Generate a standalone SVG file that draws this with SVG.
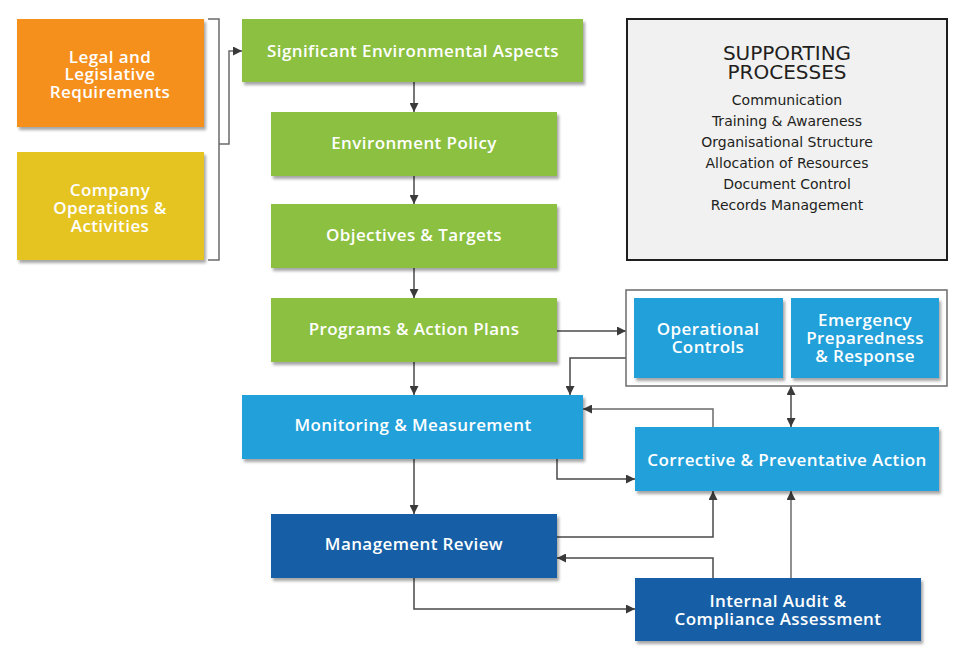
<svg xmlns="http://www.w3.org/2000/svg" width="962" height="651" viewBox="0 0 962 651">
<style>
.box{filter:url(#sh)}
.t{font-family:"Open Sans","DejaVu Sans",sans-serif;font-size:17px;font-weight:600;letter-spacing:0.4px;fill:#ffffff;text-anchor:middle}
.s{font-family:"DejaVu Sans",sans-serif;fill:#231f20;text-anchor:middle}
.c{fill:none;stroke:#4a4a4a;stroke-width:1.5}
.g{fill:none;stroke:#6b6b6b;stroke-width:1.5}
</style>
<defs>
<filter id="sh" x="-10%" y="-20%" width="125%" height="150%">
<feDropShadow dx="2" dy="3" stdDeviation="1.8" flood-color="#000" flood-opacity="0.35"/>
</filter>
<marker id="a" viewBox="0 0 10 10" refX="10" refY="5" markerWidth="9" markerHeight="9" markerUnits="userSpaceOnUse" orient="auto-start-reverse">
<path d="M0,0 L10,5 L0,10 Z" fill="#3a3a3a"/>
</marker>
</defs>
<rect width="962" height="651" fill="#ffffff"/>

<g id="connectors">
<path class="g" d="M208,19 H219 V260 H208"/>
<path class="g" d="M219,144 H229 V51 H242" marker-end="url(#a)"/>
<path class="c" d="M414,82 V112" marker-end="url(#a)"/>
<path class="c" d="M414,176 V204" marker-end="url(#a)"/>
<path class="c" d="M414,268 V298" marker-end="url(#a)"/>
<path class="c" d="M414,362 V395" marker-end="url(#a)"/>
<path class="c" d="M557,331 H626" marker-end="url(#a)"/>
<path class="c" d="M626,358 H570 V395" marker-end="url(#a)"/>
<path class="g" d="M713,427 V409 H583" marker-end="url(#a)"/>
<path class="c" d="M791,386 V427" marker-start="url(#a)" marker-end="url(#a)"/>
<path class="c" d="M557,459 V479 H635" marker-end="url(#a)"/>
<path class="c" d="M414,459 V514" marker-end="url(#a)"/>
<path class="c" d="M557,537 H713 V491" marker-end="url(#a)"/>
<path class="c" d="M713,578 V558 H557" marker-end="url(#a)"/>
<path class="c" d="M414,578 V609 H635" marker-end="url(#a)"/>
<path class="g" d="M791,578 V491" marker-end="url(#a)"/>
</g>

<g id="legal">
<rect class="box" x="17" y="19" width="187" height="108" fill="#f6901e"/>
<text class="t" x="110" y="63">Legal and</text>
<text class="t" x="110" y="80">Legislative</text>
<text class="t" x="110" y="98">Requirements</text>
</g>
<g id="company">
<rect class="box" x="17" y="152" width="187" height="108" fill="#e5c420"/>
<text class="t" x="110" y="196">Company</text>
<text class="t" x="110" y="214">Operations &amp;</text>
<text class="t" x="110" y="232">Activities</text>
</g>
<g id="significant">
<rect class="box" x="242" y="19" width="341" height="63" fill="#8bc03f"/>
<text class="t" x="413" y="57">Significant Environmental Aspects</text>
</g>
<g id="policy">
<rect class="box" x="271" y="112" width="286" height="64" fill="#8bc03f"/>
<text class="t" x="414" y="149">Environment Policy</text>
</g>
<g id="objectives">
<rect class="box" x="271" y="204" width="286" height="64" fill="#8bc03f"/>
<text class="t" x="414" y="241">Objectives &amp; Targets</text>
</g>
<g id="programs">
<rect class="box" x="271" y="298" width="286" height="64" fill="#8bc03f"/>
<text class="t" x="414" y="335">Programs &amp; Action Plans</text>
</g>
<g id="monitoring">
<rect class="box" x="242" y="395" width="341" height="64" fill="#22a0da"/>
<text class="t" x="413" y="431">Monitoring &amp; Measurement</text>
</g>
<g id="management">
<rect class="box" x="271" y="514" width="286" height="64" fill="#155fa7"/>
<text class="t" x="414" y="550">Management Review</text>
</g>
<g id="operations-group">
<rect x="626" y="290" width="321" height="96" fill="none" stroke="#6b6b6b" stroke-width="1.5"/>
</g>
<g id="operational">
<rect class="box" x="634" y="298" width="149" height="80" fill="#22a0da"/>
<text class="t" x="708" y="335">Operational</text>
<text class="t" x="708" y="353">Controls</text>
</g>
<g id="emergency">
<rect class="box" x="791" y="298" width="148" height="80" fill="#22a0da"/>
<text class="t" x="865" y="326">Emergency</text>
<text class="t" x="865" y="344">Preparedness</text>
<text class="t" x="865" y="362">&amp; Response</text>
</g>
<g id="corrective">
<rect class="box" x="635" y="427" width="304" height="64" fill="#22a0da"/>
<text class="t" x="787" y="466">Corrective &amp; Preventative Action</text>
</g>
<g id="audit">
<rect class="box" x="635" y="578" width="286" height="63" fill="#155fa7"/>
<text class="t" x="778" y="607">Internal Audit &amp;</text>
<text class="t" x="778" y="625">Compliance Assessment</text>
</g>
<g id="supporting">
<rect x="627" y="19" width="320" height="241" fill="#f1f1f2" stroke="#1e1e1e" stroke-width="2"/>
<text class="s" x="787" y="60" font-size="20">SUPPORTING</text>
<text class="s" x="787" y="79" font-size="20">PROCESSES</text>
<text class="s" x="787" y="105" font-size="14">Communication</text>
<text class="s" x="787" y="126" font-size="14">Training &amp; Awareness</text>
<text class="s" x="787" y="147" font-size="14">Organisational Structure</text>
<text class="s" x="787" y="168" font-size="14">Allocation of Resources</text>
<text class="s" x="787" y="189" font-size="14">Document Control</text>
<text class="s" x="787" y="210" font-size="14">Records Management</text>
</g>
</svg>
